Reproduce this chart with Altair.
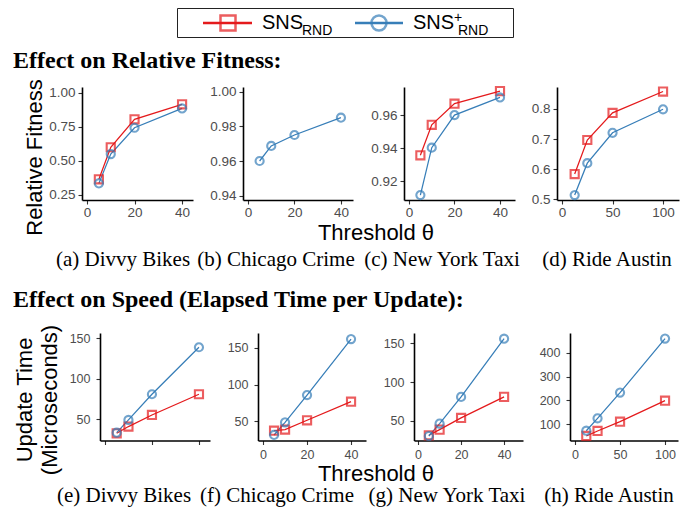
import altair as alt
import pandas as pd

# ---------------- data ----------------
SERIES = ["SNS_RND", "SNS+_RND"]
COLORS = ["#E41A1C", "#377EB8"]
SHAPES = ["square", "circle"]

theta_small = [5, 10, 20, 40]
theta_austin = [12.5, 25, 50, 100]

# Relative fitness
fit_divvy_red = [0.365, 0.600, 0.805, 0.915]
fit_divvy_blue = [0.335, 0.550, 0.743, 0.885]
fit_crime_blue = [0.960, 0.9687, 0.975, 0.985]
fit_taxi_red = [0.9358, 0.9543, 0.9671, 0.9747]
fit_taxi_blue = [0.9117, 0.9404, 0.9602, 0.9709]
fit_austin_red = [0.584, 0.697, 0.787, 0.858]
fit_austin_blue = [0.514, 0.620, 0.721, 0.799]

# Update time (microseconds)
time_divvy_red = [32.7, 41.0, 55.3, 80.9]
time_divvy_blue = [33.5, 49.2, 80.9, 138.9]
time_crime_red = [37.3, 38.7, 51.4, 76.7]
time_crime_blue = [31.4, 48.6, 85.7, 161.8]
time_taxi_red = [31.5, 38.8, 53.9, 81.0]
time_taxi_blue = [30.6, 46.6, 81.0, 156.0]
time_austin_red = [51, 72, 111, 199]
time_austin_blue = [73, 125, 233, 459]

captions_top = ["(a) Divvy Bikes", "(b) Chicago Crime", "(c) New York Taxi", "(d) Ride Austin"]
captions_bot = ["(e) Divvy Bikes", "(f) Chicago Crime", "(g) New York Taxi", "(h) Ride Austin"]

# ---------------- layout ----------------
W, H = 681, 499
SANS = "Liberation Sans"
SERIF = "Liberation Serif"


def make_df(xs, red, blue):
    rows = []
    if red is not None:
        rows += [{"x": x, "v": v, "s": SERIES[0]} for x, v in zip(xs, red)]
    if blue is not None:
        rows += [{"x": x, "v": v, "s": SERIES[1]} for x, v in zip(xs, blue)]
    return pd.DataFrame(rows)


def panel(df, xr, yr, xdom, ydom, xt, yt, yfmt, fs, ypad, xpad, xlabels=True):
    L = xr[0]
    B = yr[0]
    xaxis = alt.Axis(values=xt, format="d", grid=False, orient="bottom", offset=B - H,
                     labels=xlabels, title=None, labelFontSize=fs, labelPadding=xpad)
    yaxis = alt.Axis(values=yt, format=yfmt, grid=False, orient="left", offset=-L,
                     title=None, labelFontSize=fs, labelPadding=ypad)
    base = alt.Chart(df).encode(
        x=alt.X("x:Q", scale=alt.Scale(domain=xdom, range=xr, nice=False, zero=False), axis=xaxis),
        y=alt.Y("v:Q", scale=alt.Scale(domain=ydom, range=yr, nice=False, zero=False), axis=yaxis),
        color=alt.Color("s:N", scale=alt.Scale(domain=SERIES, range=COLORS), legend=None),
    )
    line = base.mark_line(strokeWidth=1.25)
    pts = base.mark_point(filled=False, strokeWidth=2.1, size=66).encode(
        shape=alt.Shape("s:N", scale=alt.Scale(domain=SERIES, range=SHAPES), legend=None)
    )
    return alt.layer(line, pts)


def txt(t, x, y, **kw):
    return alt.Chart(pd.DataFrame({"t": [t]})).mark_text(**kw).encode(
        x=alt.value(x), y=alt.value(y), text="t:N")


T1, B1 = 79, 192
T2, B2 = 325, 432.5
R1 = dict(fs=13.5, ypad=3, xpad=1)
R2 = dict(fs=12.5, ypad=6, xpad=4)

panels = [
    panel(make_df(theta_small, fit_divvy_red, fit_divvy_blue), [74, 185], [B1, T1],
          [-2.1, 44.6], [0.213, 1.042], [0, 20, 40], [0.25, 0.5, 0.75, 1.0], ".2f", **R1),
    panel(make_df(theta_small, None, fit_crime_blue), [235, 345], [B1, T1],
          [-2.15, 45.2], [0.9375, 1.0027], [0, 20, 40], [0.94, 0.96, 0.98, 1.0], ".2f", **R1),
    panel(make_df(theta_small, fit_taxi_red, fit_taxi_blue), [396, 507], [B1, T1],
          [-2.2, 46.6], [0.9087, 0.9772], [0, 20, 40], [0.92, 0.94, 0.96], ".2f", **R1),
    panel(make_df(theta_austin, fit_austin_red, fit_austin_blue), [549, 671], [B1, T1],
          [-5, 115.8], [0.4977, 0.873], [0, 50, 100], [0.5, 0.6, 0.7, 0.8], ".1f", **R1),
    panel(make_df(theta_small, time_divvy_red, time_divvy_blue), [92, 202], [B2, T2],
          [-2.1, 44.7], [23.8, 156.5], [0, 20, 40], [50, 100, 150], "d", xlabels=False, **R2),
    panel(make_df(theta_small, time_crime_red, time_crime_blue), [250, 358], [B2, T2],
          [-2.3, 46.8], [23.9, 170], [0, 20, 40], [50, 100, 150], "d", **R2),
    panel(make_df(theta_small, time_taxi_red, time_taxi_blue), [406, 515], [B2, T2],
          [-1.9, 48.8], [24.8, 163.3], [0, 20, 40], [50, 100, 150], "d", **R2),
    panel(make_df(theta_austin, time_austin_red, time_austin_blue), [562, 670], [B2, T2],
          [-5.6, 114.4], [32, 482.5], [0, 50, 100], [100, 200, 300, 400], "d", **R2),
]

# ---------------- annotations ----------------
title_kw = dict(font=SERIF, fontWeight="bold", fontSize=24, align="left", baseline="alphabetic", color="black")
cap_kw = dict(font=SERIF, fontSize=21, align="center", baseline="alphabetic", color="black")
axt_kw = dict(font=SANS, fontSize=22, align="center", baseline="alphabetic", color="black")
yt_kw = dict(font=SANS, fontSize=22, align="center", baseline="alphabetic", color="black", angle=270)

notes = [
    txt("Effect on Relative Fitness:", 5, 60.3, **title_kw),
    txt("Effect on Speed (Elapsed Time per Update):", 5, 298.7, **title_kw),
    txt("Threshold θ", 368, 232, **axt_kw),
    txt("Threshold θ", 368, 472.5, **axt_kw),
    txt("Relative Fitness", 34, 149.5, **yt_kw),
    txt("Update Time", 24, 392, **yt_kw),
    txt("(Microseconds)", 49, 392, **yt_kw),
]
for c, x in zip(captions_top, [115, 268, 434, 599]):
    notes.append(txt(c, x, 258, **cap_kw))
for c, x in zip(captions_bot, [116, 269, 439, 601]):
    notes.append(txt(c, x, 494, **cap_kw))

# ---------------- legend ----------------
one = pd.DataFrame({"k": [0]})
legend = [
    alt.Chart(one).mark_rect(fillOpacity=0, stroke="#222222", strokeWidth=1).encode(
        x=alt.value(169.5), x2=alt.value(505.5), y=alt.value(0.5), y2=alt.value(29.5)),
    alt.Chart(one).mark_rule(color=COLORS[0], strokeWidth=2.5).encode(
        x=alt.value(195), x2=alt.value(244), y=alt.value(15)),
    alt.Chart(one).mark_point(shape="square", filled=False, size=225, strokeWidth=2.5, color=COLORS[0]).encode(
        x=alt.value(220), y=alt.value(15)),
    alt.Chart(one).mark_rule(color=COLORS[1], strokeWidth=2.5).encode(
        x=alt.value(347), x2=alt.value(395), y=alt.value(15)),
    alt.Chart(one).mark_point(shape="circle", filled=False, size=225, strokeWidth=2.5, color=COLORS[1]).encode(
        x=alt.value(371), y=alt.value(15)),
    txt("SNS", 254, 21, font=SANS, fontSize=20, align="left", baseline="alphabetic", color="black"),
    txt("RND", 294, 27, font=SANS, fontSize=14, align="left", baseline="alphabetic", color="black"),
    txt("SNS", 405, 21, font=SANS, fontSize=20, align="left", baseline="alphabetic", color="black"),
    txt("+", 446, 14, font=SANS, fontSize=14, align="left", baseline="alphabetic", color="black"),
    txt("RND", 450, 27, font=SANS, fontSize=14, align="left", baseline="alphabetic", color="black"),
]

chart = alt.layer(*panels, *notes, *legend).resolve_scale(
    x="independent", y="independent"
).properties(
    width=W, height=H, padding=0, autosize=alt.AutoSizeParams(type="none")
).configure_view(stroke=None).configure_axis(
    domainColor="black", domainWidth=1.6, tickColor="#333333", tickWidth=1.1, tickSize=4,
    labelColor="#4D4D4D", labelFont=SANS
)

chart.save("out.html", embed_options={"renderer": "svg", "actions": False})
